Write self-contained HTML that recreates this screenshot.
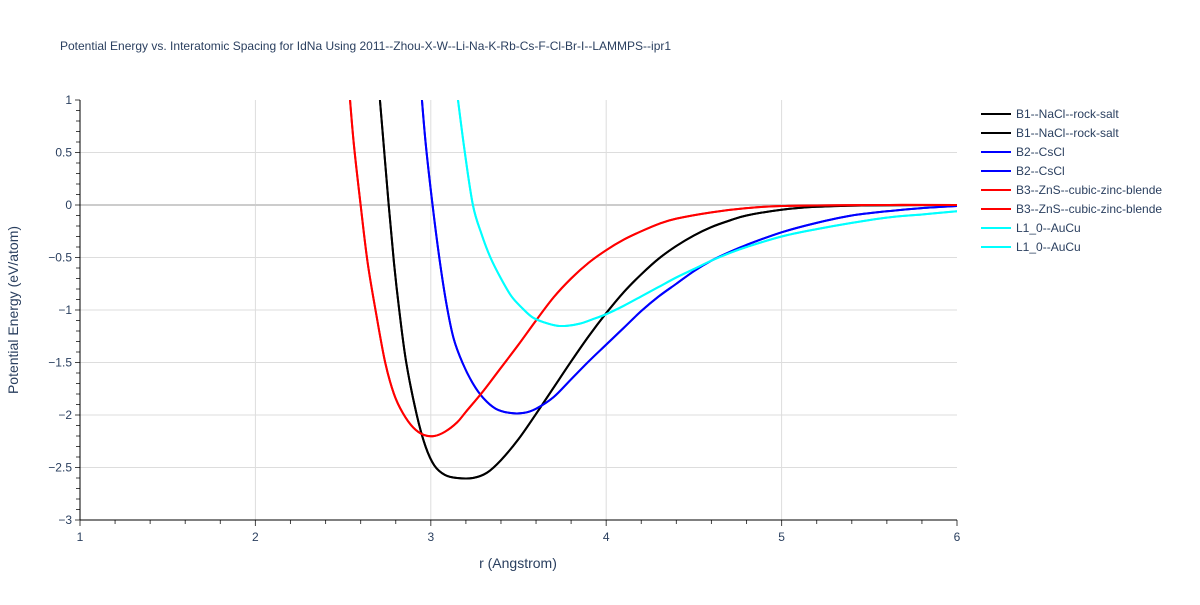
<!DOCTYPE html>
<html><head><meta charset="utf-8"><style>
body{margin:0;background:#fff;font-family:"Liberation Sans",sans-serif;}
svg text{font-family:"Liberation Sans",sans-serif;fill:#2a3f5f;}
</style></head><body>
<svg id="chart" width="1200" height="600">
<text x="60" y="50" font-size="12">Potential Energy vs. Interatomic Spacing for IdNa Using 2011--Zhou-X-W--Li-Na-K-Rb-Cs-F-Cl-Br-I--LAMMPS--ipr1</text>
<g id="grid"></g>
<defs><clipPath id="clip"><rect x="80" y="100" width="877" height="420"/></clipPath></defs>
<g id="series" clip-path="url(#clip)"></g>
<g id="axes"></g>
<text x="518" y="568" font-size="14" text-anchor="middle">r (Angstrom)</text>
<text transform="translate(18,310) rotate(-90)" font-size="14" text-anchor="middle">Potential Energy (eV/atom)</text>
<g id="legend"></g>
</svg>
<script>
const xTicks=[1,2,3,4,5,6];
const yTicks=[1,0.5,0,-0.5,-1,-1.5,-2,-2.5,-3];
const yTickLabels=["1","0.5","0","−0.5","−1","−1.5","−2","−2.5","−3"];
const seriesNames=["B1--NaCl--rock-salt","B2--CsCl","B3--ZnS--cubic-zinc-blende","L1_0--AuCu"];
const b1R=[2.70,2.73,2.76,2.79,2.82,2.86,2.92,2.97,3.02,3.08,3.15,3.24,3.32,3.4,3.5,3.6,3.7,3.8,3.9,4.0,4.1,4.2,4.3,4.4,4.5,4.6,4.7,4.8,5.0,5.2,5.5,6.0];
const b1E=[1.2,0.6,0,-0.55,-1.0,-1.5,-2.0,-2.3,-2.48,-2.57,-2.6,-2.6,-2.55,-2.43,-2.23,-1.99,-1.74,-1.49,-1.25,-1.03,-0.83,-0.66,-0.51,-0.39,-0.29,-0.21,-0.15,-0.1,-0.045,-0.017,-0.003,0];
const b2R=[2.94,2.97,3.01,3.05,3.09,3.13,3.18,3.24,3.3,3.37,3.45,3.53,3.6,3.7,3.8,3.9,4.0,4.1,4.2,4.3,4.4,4.5,4.6,4.7,4.8,5.0,5.2,5.4,5.6,5.8,6.0];
const b2E=[1.2,0.6,0,-0.52,-0.95,-1.27,-1.5,-1.7,-1.84,-1.94,-1.98,-1.98,-1.94,-1.83,-1.66,-1.49,-1.33,-1.17,-1.01,-0.87,-0.75,-0.63,-0.53,-0.45,-0.38,-0.26,-0.17,-0.1,-0.06,-0.03,-0.01];
const b3R=[2.53,2.56,2.6,2.64,2.69,2.74,2.79,2.84,2.9,2.96,3.02,3.08,3.15,3.2,3.3,3.4,3.5,3.6,3.7,3.8,3.9,4.0,4.1,4.2,4.3,4.4,4.6,4.8,5.0,5.5,6.0];
const b3E=[1.2,0.6,0,-0.55,-1.05,-1.5,-1.8,-1.98,-2.12,-2.19,-2.2,-2.16,-2.07,-1.97,-1.77,-1.55,-1.33,-1.1,-0.88,-0.7,-0.55,-0.43,-0.33,-0.25,-0.18,-0.13,-0.07,-0.03,-0.01,0,0];
const l10R=[3.14,3.19,3.24,3.29,3.34,3.4,3.46,3.52,3.58,3.65,3.72,3.78,3.85,3.92,4.0,4.1,4.2,4.3,4.4,4.5,4.6,4.7,4.8,5.0,5.2,5.4,5.6,5.8,6.0];
const l10E=[1.2,0.55,0,-0.28,-0.5,-0.7,-0.87,-0.98,-1.07,-1.12,-1.15,-1.15,-1.13,-1.09,-1.04,-0.96,-0.87,-0.78,-0.69,-0.61,-0.53,-0.46,-0.4,-0.3,-0.23,-0.17,-0.12,-0.09,-0.06];
const colors=["#000000","#0000ff","#ff0000","#00ffff"];
const NS="http://www.w3.org/2000/svg";
const X=r=>80+(r-1)*(877/5);
const Y=e=>100+(1-e)*(420/4);
function mk(tag,attrs,parent){const el=document.createElementNS(NS,tag);for(const k in attrs)el.setAttribute(k,attrs[k]);parent.appendChild(el);return el;}
function smooth(pts){let d='M'+pts[0][0]+','+pts[0][1];for(let i=0;i<pts.length-1;i++){const p0=pts[i-1]||pts[i],p1=pts[i],p2=pts[i+1],p3=pts[i+2]||p2;
const c1=[p1[0]+(p2[0]-p0[0])/6,p1[1]+(p2[1]-p0[1])/6],c2=[p2[0]-(p3[0]-p1[0])/6,p2[1]-(p3[1]-p1[1])/6];
d+=' C'+c1.join(',')+' '+c2.join(',')+' '+p2.join(',');}return d;}
const grid=document.getElementById('grid'),axes=document.getElementById('axes'),ser=document.getElementById('series'),leg=document.getElementById('legend');
xTicks.forEach(t=>{if(t>1&&t<6){const l=mk('line',{x1:X(t),x2:X(t),y1:100,y2:520,stroke:'#ddd','stroke-width':1},grid);

}
const tx=mk('text',{x:X(t),y:541,'font-size':12,'text-anchor':'middle'},axes);tx.textContent=t;

});
for(let i=0;i<=25;i++){const r=1+i*0.2;mk('line',{x1:X(r),x2:X(r),y1:520,y2:i%5?524:526,stroke:'#444'},axes);}
yTicks.forEach((t,i)=>{if(t<1&&t>-3){const l=mk('line',{x1:80,x2:957,y1:Y(t),y2:Y(t),stroke:t===0?'#ccc':'#ddd','stroke-width':t===0?2:1},grid);

}
const tx=mk('text',{x:72,y:Y(t)+4,'font-size':12,'text-anchor':'end'},axes);tx.textContent=yTickLabels[i];

});
for(let i=0;i<=40;i++){const e=1-i*0.1;mk('line',{x1:i%5?76:75,x2:80,y1:Y(e),y2:Y(e),stroke:'#444'},axes);}
mk('line',{x1:80,x2:80,y1:100,y2:520,stroke:'#000'},axes);
mk('line',{x1:80,x2:957,y1:520,y2:520,stroke:'#000'},axes);
const data=[[b1R,b1E],[b2R,b2E],[b3R,b3E],[l10R,l10E]];
data.forEach((d,i)=>{for(let k=0;k<2;k++){const p=mk('path',{d:smooth(d[0].map((r,j)=>[X(r),Y(d[1][j])])),fill:'none',stroke:colors[i],'stroke-width':2,'stroke-linejoin':'round'},ser);

}});
let ly=114;
seriesNames.forEach((n,i)=>{for(let k=0;k<2;k++){const g=mk('g',{},leg);


mk('line',{x1:981,x2:1011,y1:ly,y2:ly,stroke:colors[i],'stroke-width':2},g);
const t=mk('text',{x:1016,y:ly+4,'font-size':12},g);t.textContent=n;ly+=19;}});
</script>
</body></html>
